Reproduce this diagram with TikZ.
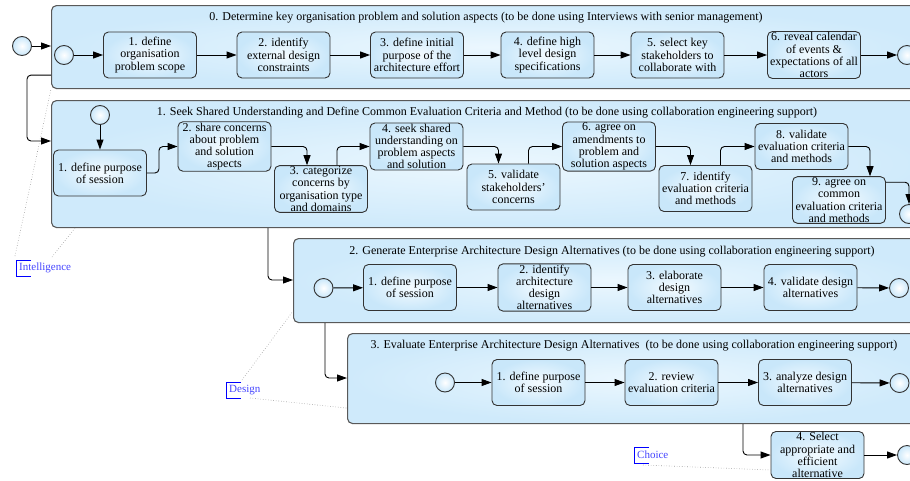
\documentclass[tikz,border=0pt]{standalone}
\usepackage{fontspec}
\setmainfont{Liberation Serif}
\usetikzlibrary{arrows.meta}
\definecolor{poolout}{HTML}{CFEAFB}
\definecolor{poolin}{HTML}{EBF7FE}
\definecolor{taskout}{HTML}{C9E7FA}
\definecolor{taskin}{HTML}{F4FBFF}
\definecolor{evout}{HTML}{C9E7FA}
\definecolor{annblue}{HTML}{4444FF}
\begin{document}
\begin{tikzpicture}[x=1pt,y=-1pt,
 font=\fontsize{12}{12.2}\selectfont,
 pool/.style={draw=black!65, line width=1.1pt, rounded corners=5pt, inner color=poolin, outer color=poolout, anchor=north west, inner sep=0pt},
 task/.style={draw=black!80, line width=0.9pt, rounded corners=5pt, inner color=taskin, outer color=taskout, minimum width=93pt, minimum height=46pt, align=center, inner sep=1pt},
 ev/.style={circle, draw=black!80, line width=0.9pt, inner color=white, outer color=evout, minimum size=19pt, inner sep=0pt},
 flow/.style={draw=black, line width=0.9pt, rounded corners=4pt, -{Triangle[length=10pt,width=7pt]}},
 ann/.style={text=annblue, anchor=west, inner sep=0pt, font=\fontsize{11}{12}\selectfont},
 brk/.style={draw=blue, line width=0.8pt},
 dots/.style={draw=black!40, dotted, line width=0.6pt},
 ttl/.style={inner sep=0pt}
]
\clip (0,0) rectangle (910,480);
% pools
\node[pool, minimum width=880pt, minimum height=83pt] (p0) at (51,5) {};
\node[pool, minimum width=880pt, minimum height=127pt] (p1) at (51,100) {};
\node[pool, minimum width=640pt, minimum height=84pt] (p2) at (293,238) {};
\node[pool, minimum width=585pt, minimum height=90pt] (p3) at (347,333) {};
% titles
\node[ttl] (p0t) at (486,18) {0. Determine key organisation problem and solution aspects (to be done using Interviews with senior management)};
\node[ttl] (p1t) at (487,113) {1. Seek Shared Understanding and Define Common Evaluation Criteria and Method (to be done using collaboration engineering support)};
\node[ttl] (p2t) at (612,252) {2. Generate Enterprise Architecture Design Alternatives (to be done using collaboration engineering support)};
\node[ttl] (p3t) at (634,346) {3. Evaluate Enterprise Architecture Design Alternatives\ \ (to be done using collaboration engineering support)};
% pool 0
\node[ev] (os) at (22,46) {};
\node[ev] (s0) at (64,55) {};
\node[task] (t0a) at (150,55) {1. define\\organisation\\problem scope};
\node[task] (t0b) at (283.5,55) {2. identify\\external design\\constraints};
\node[task] (t0c) at (417,55) {3. define initial\\purpose of the\\architecture effort};
\node[task] (t0d) at (547.5,55) {4. define high\\level design\\specifications};
\node[task] (t0e) at (677.5,55) {5. select key\\stakeholders to\\collaborate with};
\node[task] (t0f) at (814,55) {6. reveal calendar\\of events \&\\expectations of all\\actors};
\node[ev] (e0) at (907,55) {};
\draw[flow] (os) -- (os -| p0.west);
\draw[flow] (s0) -- (t0a);
\draw[flow] (t0a) -- (t0b);
\draw[flow] (t0b) -- (t0c);
\draw[flow] (t0c) -- (t0d);
\draw[flow] (t0d) -- (t0e);
\draw[flow] (t0e) -- (t0f);
\draw[flow] (t0f) -- (e0);
% pool 1
\node[ev] (s1) at (100,115) {};
\node[task] (t1a) at (100,173) {1. define purpose\\of session};
\node[task] (t1b) at (224.5,146.5) {2. share concerns\\about problem\\and solution\\aspects};
\node[task] (t1c) at (321,189) {3. categorize\\concerns by\\organisation type\\and domains};
\node[task] (t1d) at (416.5,146.5) {4. seek shared\\understanding on\\problem aspects\\and solution};
\node[task] (t1e) at (513.5,187) {5. validate\\stakeholders'\\concerns};
\node[task] (t1f) at (609,146.5) {6. agree on\\amendments to\\problem and\\solution aspects};
\node[task] (t1g) at (705.5,188.5) {7. identify\\evaluation criteria\\and methods};
\node[task] (t1h) at (801.5,146.5) {8. validate\\evaluation criteria\\and methods};
\node[task] (t1i) at (839,200) {9. agree on\\common\\evaluation criteria\\and methods};
\node[ev] (e1) at (909,214) {};
\draw[flow] (s1) -- (t1a);
\draw[flow] (t1a.east) -- ++(12,0) |- (t1b.west);
\draw[flow] (t1b.east) -| ([xshift=-14pt]t1c.north);
\draw[flow] ([xshift=16pt]t1c.north) |- (t1d.west);
\draw[flow] (t1d.east) -| ([xshift=-15pt]t1e.north);
\draw[flow] ([xshift=15pt]t1e.north) |- (t1f.west);
\draw[flow] (t1f.east) -| ([xshift=-15pt]t1g.north);
\draw[flow] ([xshift=15pt]t1g.north) |- (t1h.west);
\draw[flow] (t1h.east) -| ([xshift=31pt]t1i.north);
\draw[flow] ([yshift=-6pt]t1i.north east) -| (e1.north);
\draw[flow] ([yshift=14pt]p0.south west) -- ++(-24,0) |- ([yshift=-41pt]p1.north west);
% pool 2
\node[ev] (s2) at (323.5,288) {};
\node[task] (t2a) at (410,287.5) {1. define purpose\\of session};
\node[task] (t2b) at (544.5,287.5) {2. identify\\architecture\\design\\alternatives};
\node[task] (t2c) at (674.5,287.5) {3. elaborate\\design\\alternatives};
\node[task] (t2d) at (810.5,287.5) {4. validate design\\alternatives};
\node[ev] (e2) at (899,288) {};
\draw[flow] (s2) -- (t2a);
\draw[flow] (t2a) -- (t2b);
\draw[flow] (t2b) -- (t2c);
\draw[flow] (t2c) -- (t2d);
\draw[flow] (t2d) -- (e2);
\coordinate (k12) at (268,0);
\draw[flow] (p1.south -| k12) |- ([yshift=-42pt]p2.north west);
% pool 3
\node[ev] (s3) at (445,382.5) {};
\node[task] (t3a) at (538.5,382.5) {1. define purpose\\of session};
\node[task] (t3b) at (671.5,382.5) {2. review\\evaluation criteria};
\node[task] (t3c) at (805,382.5) {3. analyze design\\alternatives};
\node[ev] (e3) at (899.5,383) {};
\draw[flow] (s3) -- (t3a);
\draw[flow] (t3a) -- (t3b);
\draw[flow] (t3b) -- (t3c);
\draw[flow] (t3c) -- (e3);
\coordinate (k23) at (325,0);
\draw[flow] (p2.south -| k23) |- ([yshift=-45pt]p3.north west);
% final choice
\node[task] (t4) at (817.5,455) {4. Select\\appropriate and\\efficient\\alternative};
\node[ev] (e4) at (907,455) {};
\coordinate (k34) at (743,0);
\draw[flow] (p3.south -| k34) |- (t4.west);
\draw[flow] (t4) -- (e4);
% annotations
\node[ann] (ai) at (19,268) {Intelligence};
\draw[brk] (31,260) -- (16,260) -- (16,276) -- (31,276);
\draw[dots] (15,256) -- (p0.south west);
\draw[dots] (52,257) -- ([xshift=24pt]p1.south west);
\node[ann] (ad) at (229,390) {Design};
\draw[brk] (241,382) -- (226,382) -- (226,398) -- (241,398);
\draw[dots] (242,380) -- ([yshift=12pt]p2.south west);
\draw[dots] (250,398) -- ([yshift=16pt]p3.south west);
\node[ann] (ac) at (637,455) {Choice};
\draw[brk] (649,447) -- (634,447) -- (634,463) -- (649,463);
\draw[dots] (643,465) -- ([yshift=-15pt]t4.west);
\end{tikzpicture}
\end{document}
